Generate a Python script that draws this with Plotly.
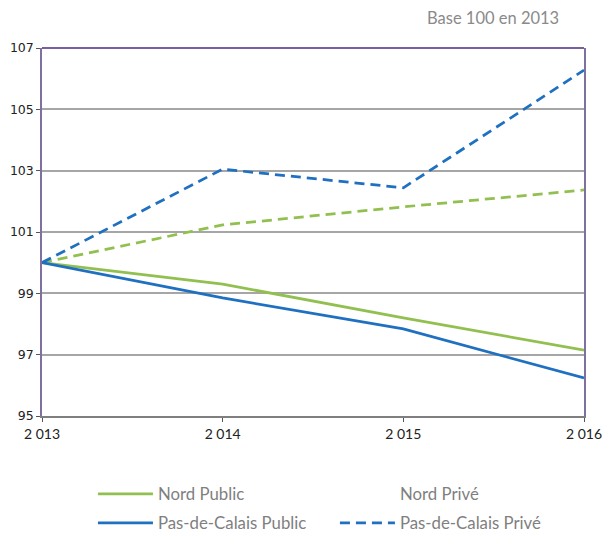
import plotly.graph_objects as go

years = ["2 013", "2 014", "2 015", "2 016"]
nord_public = [100, 99.30, 98.20, 97.15]
nord_prive = [100, 101.23, 101.82, 102.37]
pdc_public = [100, 98.85, 97.84, 96.24]
pdc_prive = [100, 103.05, 102.44, 106.28]
y_ticks = [95, 97, 99, 101, 103, 105, 107]

GREEN = "#92c050"
BLUE = "#1f70c1"
DASH = "10px,6px"
LW = 2.75

fig = go.Figure()
fig.add_trace(go.Scatter(x=years, y=nord_public, mode="lines", name="Nord Public",
                         line=dict(color=GREEN, width=LW), legend="legend"))
fig.add_trace(go.Scatter(x=years, y=nord_prive, mode="lines", name="Nord Privé",
                         line=dict(color=GREEN, width=LW, dash=DASH), showlegend=False))
fig.add_trace(go.Scatter(x=[None], y=[None], mode="lines", name="Nord Privé",
                         line=dict(color="rgba(0,0,0,0)", width=LW), legend="legend"))
fig.add_trace(go.Scatter(x=years, y=pdc_public, mode="lines", name="Pas-de-Calais Public",
                         line=dict(color=BLUE, width=LW), legend="legend2"))
fig.add_trace(go.Scatter(x=years, y=pdc_prive, mode="lines", name="Pas-de-Calais Privé",
                         line=dict(color=BLUE, width=LW, dash=DASH), legend="legend2"))

leg_common = dict(orientation="h", x=0.094, xanchor="left", yanchor="top",
                  entrywidth=172, entrywidthmode="pixels", itemwidth=55,
                  font=dict(family="Lato", size=16.8, color="#7f7f7f"),
                  bgcolor="rgba(0,0,0,0)", traceorder="normal")

fig.update_layout(
    width=610, height=535,
    margin=dict(l=42, r=26, t=48, b=119, autoexpand=False),
    paper_bgcolor="white", plot_bgcolor="white",
    font=dict(family="Lato", color="#222"),
    xaxis=dict(type="category", range=[0, 3], showgrid=False, zeroline=False,
               showline=True, linecolor="#7f7f7f", linewidth=1.5, automargin=False,
               ticks="outside", ticklen=4, tickcolor="#555",
               tickfont=dict(family="Lato", size=14, color="#222")),
    yaxis=dict(range=[95, 107], tickvals=y_ticks, showgrid=True,
               gridcolor="#a6a6a6", gridwidth=2, zeroline=False, automargin=False,
               showline=True, linecolor="#8070a0", linewidth=1.5, mirror=True,
               ticks="outside", ticklen=4, tickcolor="#555",
               tickfont=dict(family="DejaVu Sans", size=12.5, color="#222")),
    legend=dict(leg_common, y=-0.164),
    legend2=dict(leg_common, y=-0.243),
    annotations=[dict(text="Base 100 en 2013", xref="paper", yref="paper",
                      x=0.832, y=1.081, xanchor="center", yanchor="middle", showarrow=False,
                      font=dict(family="Lato", size=16.5, color="#8a8a8a"))],
    shapes=[dict(type="line", xref="paper", yref="paper", x0=0, x1=1, y0=1, y1=1,
                 line=dict(color="#7a5fa0", width=2))],
)

fig.write_html("out.html", config={"displayModeBar": False},
               post_script="document.body.style.margin='0px';document.body.style.overflow='hidden';")
